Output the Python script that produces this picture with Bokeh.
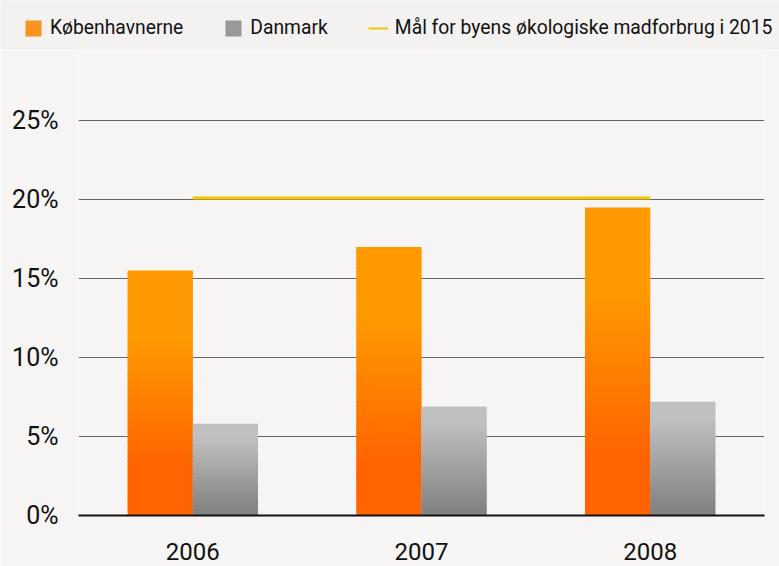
from bokeh.plotting import figure
from bokeh.layouts import column
from bokeh.models import (ColumnDataSource, Range1d, FactorRange, FixedTicker,
                          Legend, LegendItem, PrintfTickFormatter)
from bokeh.transform import dodge
from bokeh.embed import file_html
from bokeh.resources import INLINE

# ---- data ----
years = ["2006", "2007", "2008"]
kobenhavnerne = [15.5, 17.0, 19.5]
danmark = [5.8, 6.9, 7.2]
goal_2015 = 20.1
y_ticks = [0, 5, 10, 15, 20, 25]
series_labels = ["Københavnerne", "Danmark", "Mål for byens økologiske madforbrug i 2015"]

FONT = "Roboto"
BG_TOP = "#f3f2f1"
BG = "#f6f5f4"
NAN = float("nan")


def hex2rgb(h):
    h = h.lstrip("#")
    return tuple(int(h[i:i + 2], 16) for i in (0, 2, 4))


def lerp(c0, c1, t):
    a, b = hex2rgb(c0), hex2rgb(c1)
    return "#%02x%02x%02x" % tuple(int(round(a[i] + (b[i] - a[i]) * t)) for i in range(3))


def clamp(v):
    return max(0.0, min(1.0, v))


def gradient_slices(cats, values, dark, light, t0, t1, n=60):
    xs, bots, tops, cols = [], [], [], []
    for c, v in zip(cats, values):
        for i in range(n):
            b = v * i / n
            t = min(v, v * (i + 1.6) / n)
            frac = (i + 0.5) / n
            xs.append(c)
            bots.append(b)
            tops.append(t)
            cols.append(lerp(dark, light, clamp((frac - t0) / (t1 - t0))))
    return ColumnDataSource(dict(year=xs, bottom=bots, top=tops, color=cols))


# ---------- legend strip ----------
lg = figure(width=779, height=50, output_backend="svg", toolbar_location=None,
            x_range=FactorRange(*years), y_range=Range1d(0, 1),
            x_axis_type=None, y_axis_type=None,
            min_border_left=0, min_border_right=0, min_border_top=0, min_border_bottom=0,
            background_fill_color=BG_TOP, border_fill_color=BG_TOP, outline_line_color=None)
try:
    lg.frame_align = False
except Exception:
    pass
lg.xgrid.visible = False
lg.ygrid.visible = False
# legend proxies (NaN values -> nothing drawn)
r1 = lg.vbar(x=[years[0]], top=[NAN], bottom=[NAN], width=0.1, fill_color="#f7941d", line_color=None)
r2 = lg.vbar(x=[years[0]], top=[NAN], bottom=[NAN], width=0.1, fill_color="#999999", line_color=None)
r3 = lg.line(x=[years[0]], y=[NAN], line_color="#f5c400", line_width=2)
legend = Legend(items=[LegendItem(label=series_labels[0], renderers=[r1]),
                       LegendItem(label=series_labels[1], renderers=[r2]),
                       LegendItem(label=series_labels[2], renderers=[r3])],
                orientation="horizontal", location=(23, 11),
                background_fill_alpha=0, border_line_alpha=0,
                label_text_font=FONT, label_text_font_size="19.3px", label_text_color="#111111",
                glyph_width=20, glyph_height=20, label_standoff=7, spacing=40,
                padding=0, margin=0, label_height=16)
lg.add_layout(legend, "center")

# ---------- main chart ----------
p = figure(width=779, height=516, output_backend="svg", toolbar_location=None,
           x_range=FactorRange(*years, range_padding=0),
           y_range=Range1d(0, 465 / 15.8),
           min_border_left=78, min_border_right=15, min_border_top=0, min_border_bottom=51,
           background_fill_color=BG, border_fill_color=BG, outline_line_color=None)
try:
    p.frame_align = False
except Exception:
    pass

bar_w = 0.285
src_k = gradient_slices(years, kobenhavnerne, "#ff6400", "#ff9900", 0.2, 0.72)
src_d = gradient_slices(years, danmark, "#7f7f7f", "#c0c0c0", 0.0, 0.85)

p.vbar(x=dodge("year", -bar_w / 2, range=p.x_range), bottom="bottom", top="top",
       width=bar_w, fill_color="color", line_color=None, source=src_k)
p.vbar(x=dodge("year", bar_w / 2, range=p.x_range), bottom="bottom", top="top",
       width=bar_w, fill_color="color", line_color=None, source=src_d)

# goal line from first to last category centre
p.segment(x0=[years[0]], x1=[years[-1]], y0=[goal_2015], y1=[goal_2015],
          line_color="#f7c600", line_width=3)

# axes and grid
p.yaxis.ticker = FixedTicker(ticks=y_ticks)
p.yaxis.formatter = PrintfTickFormatter(format="%d%%")
p.yaxis.axis_line_color = None
p.yaxis.major_tick_line_color = None
p.yaxis.minor_tick_line_color = None
p.yaxis.major_label_standoff = 14
p.yaxis.major_label_text_font = FONT
p.yaxis.major_label_text_font_size = "25px"
p.yaxis.major_label_text_color = "#111111"

p.xaxis.axis_line_color = "#111111"
p.xaxis.axis_line_width = 2
p.xaxis.major_tick_line_color = None
p.xaxis.major_label_standoff = 21
p.xaxis.major_label_text_font = FONT
p.xaxis.major_label_text_font_size = "24px"
p.xaxis.major_label_text_color = "#111111"

p.xgrid.grid_line_color = None
p.ygrid.grid_line_color = "#666666"
p.ygrid.grid_line_width = 1

layout = column(lg, p, spacing=0)
open("out.html", "w").write(file_html(layout, INLINE))
